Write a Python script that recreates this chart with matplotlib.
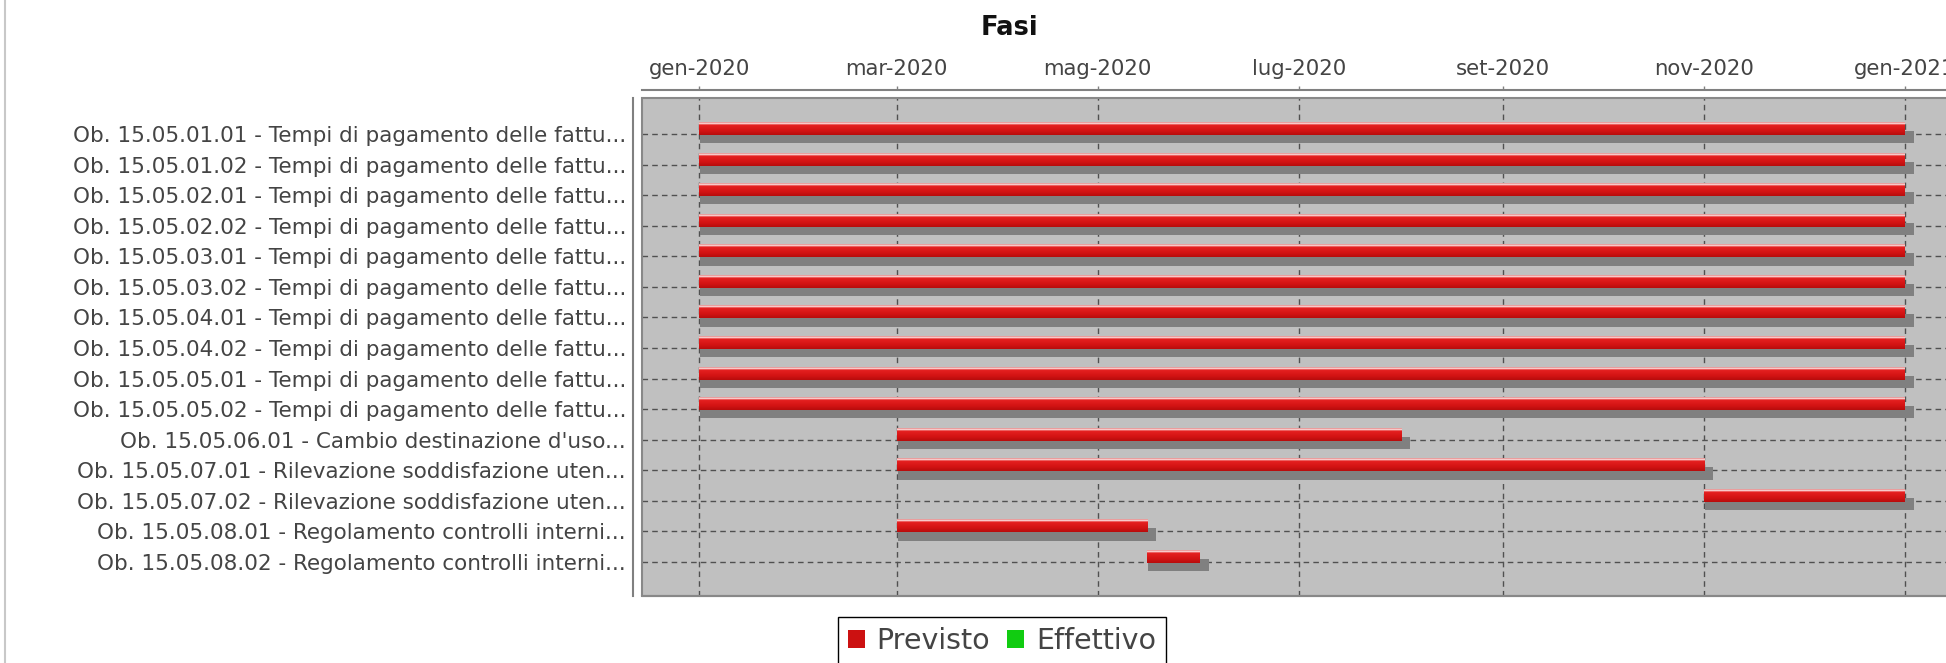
import numpy as np
import pandas as pd
import matplotlib
matplotlib.use('Agg')
import matplotlib.pyplot as plt
import matplotlib.dates as mdates
from matplotlib.colors import LinearSegmentedColormap
from matplotlib.patches import Rectangle
from matplotlib.lines import Line2D

W, H = 1946, 663

# ── Data ─────────────────────────────────────────────────────────────────────
tasks = [
    "Ob. 15.05.01.01 - Tempi di pagamento delle fattu...",
    "Ob. 15.05.01.02 - Tempi di pagamento delle fattu...",
    "Ob. 15.05.02.01 - Tempi di pagamento delle fattu...",
    "Ob. 15.05.02.02 - Tempi di pagamento delle fattu...",
    "Ob. 15.05.03.01 - Tempi di pagamento delle fattu...",
    "Ob. 15.05.03.02 - Tempi di pagamento delle fattu...",
    "Ob. 15.05.04.01 - Tempi di pagamento delle fattu...",
    "Ob. 15.05.04.02 - Tempi di pagamento delle fattu...",
    "Ob. 15.05.05.01 - Tempi di pagamento delle fattu...",
    "Ob. 15.05.05.02 - Tempi di pagamento delle fattu...",
    "Ob. 15.05.06.01 - Cambio destinazione d'uso...",
    "Ob. 15.05.07.01 - Rilevazione soddisfazione uten...",
    "Ob. 15.05.07.02 - Rilevazione soddisfazione uten...",
    "Ob. 15.05.08.01 - Regolamento controlli interni...",
    "Ob. 15.05.08.02 - Regolamento controlli interni...",
]
start_planned = ["2020-01-01"] * 10 + ["2020-03-01", "2020-03-01", "2020-11-01",
                                       "2020-03-01", "2020-05-16"]
end_planned = ["2021-01-01"] * 10 + ["2020-08-01", "2020-11-01", "2021-01-01",
                                     "2020-05-16", "2020-06-01"]
mesi = ["gen", "feb", "mar", "apr", "mag", "giu",
        "lug", "ago", "set", "ott", "nov", "dic"]
series = ["Previsto", "Effettivo"]
series_colors = ["#cc1111", "#11cc11"]

x_min, x_max = "2019-12-14 16:00", "2021-01-18 08:00"

starts = mdates.date2num(pd.to_datetime(start_planned))
ends = mdates.date2num(pd.to_datetime(end_planned))

# ── Figure ───────────────────────────────────────────────────────────────────
fig = plt.figure(figsize=(W / 100, H / 100), dpi=100)
fig.patch.set_facecolor('white')

left, right, top, bottom = 642, 1962, 98, 596
ax = fig.add_axes([left / W, 1 - bottom / H, (right - left) / W, (bottom - top) / H])
ax.set_facecolor('#c0c0c0')

n = len(tasks)

# gradient fill for the bars
bar_cmap = LinearSegmentedColormap.from_list('bar', [
    (0.0, '#e07070'), (0.10, '#fff4f4'), (0.22, '#e52020'),
    (0.65, '#d41414'), (1.0, '#b80c0c')])
grad = np.linspace(0, 1, 64).reshape(-1, 1)

px_day = 3.295
for i in range(n):
    x0, x1 = starts[i], ends[i]
    y_top, y_bot = i - 0.37, i + 0.03
    # drop shadow
    ax.add_patch(Rectangle((x0 + 1 / px_day, y_top + 0.27), (x1 - x0) + 8 / px_day,
                           y_bot - y_top, facecolor='#808080', edgecolor='none', zorder=2))
    ax.imshow(grad, cmap=bar_cmap, aspect='auto', interpolation='bilinear',
              extent=(x0, x1, y_bot, y_top), origin='upper', zorder=3)

ax.set_ylim(n - 1 + 1.11, -1.18)
ax.set_xlim(mdates.date2num(pd.Timestamp(x_min)), mdates.date2num(pd.Timestamp(x_max)))

# axes: dates on top, categories on the left
ax.xaxis.tick_top()
ax.xaxis.set_major_locator(mdates.MonthLocator(bymonth=[1, 3, 5, 7, 9, 11]))
ax.xaxis.set_major_formatter(plt.FuncFormatter(
    lambda v, pos: f"{mesi[mdates.num2date(v).month - 1]}-{mdates.num2date(v).year}"))
ax.tick_params(axis='x', which='major', direction='out', length=3, width=1,
               color='#808080', labelsize=15.3, labelcolor='#444444', pad=5)
ax.set_yticks(range(n))
ax.set_yticklabels(tasks)
ax.tick_params(axis='y', length=0, labelsize=15.5, labelcolor='#444444', pad=5)

ax.grid(True, color='#505050', linestyle=(0, (4, 3)), linewidth=1)
ax.set_axisbelow(True)

for s in ['right', 'bottom']:
    ax.spines[s].set_color('#888888')
    ax.spines[s].set_linewidth(1.5)
ax.spines['top'].set_position(('outward', 6))
ax.spines['left'].set_position(('outward', 6.5))
for s in ['top', 'left']:
    ax.spines[s].set_color('#808080')
    ax.spines[s].set_linewidth(1.5)
ax.add_patch(Rectangle((0, 0), 1, 1, transform=ax.transAxes, fill=False,
                       edgecolor='#888888', linewidth=1.5, zorder=5, clip_on=False))

fig.text(1009 / W, 1 - 28 / H, 'Fasi', ha='center', va='center',
         fontsize=18.5, fontweight='bold', color='#111111')

# image border on the left
fig.add_artist(Line2D([4.5 / W, 4.5 / W], [0, 1], color='#c8c8c8', linewidth=1.5))

handles = [Rectangle((0, 0), 1, 1, facecolor=c, edgecolor='none') for c in series_colors]
fig.legend(handles, series, loc='upper center', bbox_to_anchor=(1002 / W, 1 - 617 / H),
           ncol=2, frameon=True, fancybox=False, edgecolor='black', fontsize=20.5,
           handlelength=0.6, handleheight=0.6, handletextpad=0.4, columnspacing=0.6,
           borderpad=0.35, borderaxespad=0, labelcolor='#444444', framealpha=1)

fig.savefig('out.png', dpi=100)
